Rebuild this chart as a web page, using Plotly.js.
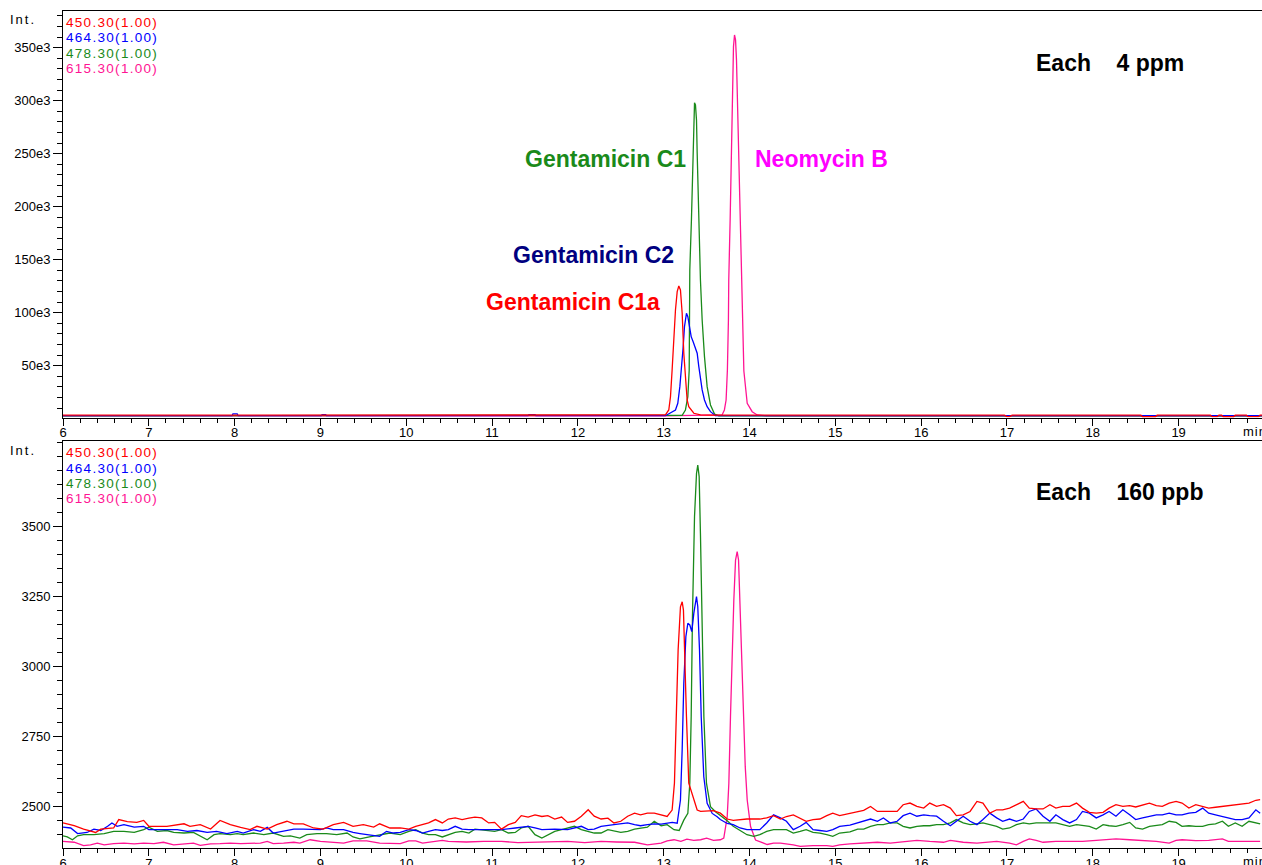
<!DOCTYPE html>
<html>
<head>
<meta charset="utf-8">
<script src="https://cdn.plot.ly/plotly-3.0.1.min.js"></script>
<style>
html,body{margin:0;padding:0;overflow:hidden;background:#fff;}
#plot{width:1264px;height:865px;}
</style>
</head>
<body>
<div id="plot"></div>
<script>
// ---------- DATA ----------
// Channel labels (m/z)
const channels = ['450.30(1.00)', '464.30(1.00)', '478.30(1.00)', '615.30(1.00)'];
const channelColors = ['#ff0000', '#0000ff', '#1a8a1a', '#ff1493'];
const compounds = ['Gentamicin C1a', 'Gentamicin C2', 'Gentamicin C1', 'Neomycin B'];
const panelTitles = ['Each\u00a0\u00a0\u00a0\u00a04 ppm', 'Each\u00a0\u00a0\u00a0\u00a0160 ppb'];

// Top panel (4 ppm) ---------------------------------------------------------
const t450_top = [6, 10, 12.5, 13.02, 13.059, 13.079, 13.098, 13.118, 13.137, 13.157, 13.176, 13.195, 13.215, 13.234, 13.253, 13.273, 13.292, 13.351, 13.428, 13.55, 15, 16.97, 17.0, 17.03, 17.06, 18.56, 18.58, 18.73, 18.75, 19.37, 19.39, 19.45, 19.47, 19.5, 19.52, 19.64, 19.66, 19.79, 19.81, 19.93, 19.95, 20];
const i450_top = [3300, 3300, 3300, 3500, 8200, 20800, 45900, 77400, 102500, 119800, 125200, 121400, 99400, 61700, 36500, 17600, 11300, 5100, 3600, 3300, 3300, 3300, 1900, 1900, 3300, 3300, 1800, 1800, 3300, 3300, 1900, 1900, 3300, 3300, 1800, 1800, 3300, 3300, 1900, 1900, 3300, 3300];
const t464_top = [6, 7.97, 7.98, 8.03, 8.04, 9.01, 9.02, 9.06, 9.07, 11.42, 11.43, 11.5, 11.51, 13.02, 13.137, 13.164, 13.188, 13.207, 13.227, 13.242, 13.258, 13.265, 13.281, 13.304, 13.32, 13.343, 13.37, 13.39, 13.409, 13.428, 13.448, 13.475, 13.506, 13.545, 13.603, 14.5, 20];
const i464_top = [2800, 2800, 4600, 4600, 2800, 2800, 3900, 3900, 2800, 2800, 3800, 3800, 2800, 2800, 8200, 14500, 30200, 45900, 67900, 86800, 97800, 99400, 96200, 86800, 77400, 72600, 66400, 61700, 49100, 36500, 27100, 17600, 11300, 6600, 2800, 2800, 2800];
const t478_top = [6, 12, 13.215, 13.253, 13.281, 13.297, 13.304, 13.323, 13.339, 13.347, 13.359, 13.37, 13.382, 13.39, 13.409, 13.428, 13.448, 13.475, 13.506, 13.545, 13.592, 13.642, 20];
const i478_top = [2600, 2600, 3200, 8200, 20800, 45900, 140300, 187500, 250400, 281800, 298100, 296000, 281800, 250400, 187500, 130900, 93100, 58500, 30200, 12900, 4400, 2600, 2600];
const t615_top = [6, 13.0, 13.68, 13.707, 13.727, 13.742, 13.754, 13.758, 13.774, 13.79, 13.802, 13.813, 13.825, 13.837, 13.848, 13.856, 13.875, 13.895, 13.91, 13.922, 13.934, 13.973, 14.031, 14.09, 14.2, 20];
const i615_top = [2600, 2600, 3500, 8200, 17600, 45900, 93100, 130900, 187500, 250400, 313200, 351000, 362000, 357300, 338400, 313200, 250400, 187500, 130900, 93100, 45000, 14500, 6600, 3500, 2600, 2600];

// Bottom panel (160 ppb) ----------------------------------------------------
const t450_bot = [6.00,6.13,6.24,6.38,6.44,6.59,6.65,6.75,6.86,6.94,7.00,7.21,7.41,7.48,7.60,7.72,7.83,7.95,8.07,8.18,8.26,8.38,8.49,8.61,8.69,8.80,8.92,9.03,9.15,9.27,9.38,9.50,9.62,9.69,9.81,9.93,10.03,10.11,10.26,10.34,10.42,10.49,10.57,10.65,10.73,10.80,10.88,10.96,11.03,11.11,11.19,11.27,11.34,11.42,11.50,11.58,11.65,11.73,11.81,11.88,11.96,12.04,12.12,12.19,12.27,12.35,12.42,12.50,12.58,12.66,12.73,12.81,12.89,12.97,13.04,13.07,13.098,13.125,13.149,13.168,13.195,13.215,13.23,13.242,13.265,13.292,13.332,13.37,13.39,13.43,13.50,13.58,13.66,13.74,13.81,13.89,13.97,14.05,14.12,14.20,14.28,14.36,14.43,14.51,14.59,14.66,14.74,14.82,14.90,14.97,15.05,15.17,15.33,15.41,15.49,15.60,15.72,15.79,15.87,15.95,16.03,16.10,16.18,16.26,16.34,16.41,16.49,16.57,16.65,16.72,16.80,16.88,16.95,17.03,17.11,17.19,17.26,17.34,17.42,17.50,17.57,17.65,17.73,17.81,17.88,17.96,18.04,18.12,18.19,18.27,18.35,18.43,18.50,18.58,18.66,18.74,18.81,18.89,18.97,19.04,19.12,19.20,19.28,19.35,19.43,19.51,19.58,19.66,19.74,19.82,19.90,19.95];
const i450_bot = [2442,2432,2420,2408,2420,2424,2454,2447,2444,2451,2430,2430,2439,2430,2436,2420,2451,2436,2426,2418,2430,2420,2436,2448,2439,2439,2424,2420,2436,2444,2430,2436,2427,2439,2424,2424,2420,2430,2442,2454,2442,2456,2460,2454,2459,2463,2460,2442,2444,2420,2436,2444,2468,2463,2471,2465,2468,2456,2463,2444,2448,2466,2489,2466,2456,2459,2442,2448,2466,2477,2471,2477,2477,2471,2465,2477,2488,2584,2822,3060,3214,3232,3202,3060,2822,2584,2548,2512,2488,2483,2484,2486,2477,2456,2451,2454,2456,2456,2456,2460,2468,2456,2465,2471,2460,2448,2454,2456,2468,2477,2468,2477,2487,2501,2483,2483,2483,2507,2513,2501,2495,2513,2501,2507,2495,2468,2471,2483,2519,2513,2477,2489,2489,2495,2507,2519,2495,2492,2492,2507,2495,2501,2501,2513,2495,2480,2477,2480,2495,2507,2501,2504,2499,2507,2513,2504,2501,2513,2519,2513,2495,2507,2501,2495,2498,2501,2504,2507,2510,2513,2523,2525];

const t464_bot = [6.00,6.09,6.17,6.28,6.36,6.44,6.52,6.57,6.63,6.71,6.83,6.94,7.00,7.10,7.21,7.33,7.45,7.56,7.68,7.79,7.91,8.03,8.10,8.22,8.30,8.38,8.45,8.57,8.69,8.80,8.92,9.00,9.07,9.15,9.27,9.38,9.46,9.57,9.69,9.77,9.85,9.93,10.03,10.11,10.19,10.26,10.34,10.42,10.49,10.57,10.65,10.73,10.85,10.96,11.11,11.27,11.42,11.50,11.58,11.73,11.88,12.04,12.12,12.19,12.27,12.42,12.58,12.66,12.73,12.81,12.89,12.97,13.04,13.10,13.157,13.195,13.215,13.234,13.258,13.281,13.304,13.327,13.351,13.382,13.397,13.417,13.437,13.467,13.506,13.565,13.623,13.66,13.74,13.81,13.89,13.97,14.05,14.12,14.20,14.28,14.36,14.43,14.51,14.59,14.66,14.74,14.82,14.90,14.97,15.05,15.17,15.26,15.33,15.41,15.49,15.56,15.64,15.72,15.79,15.87,15.95,16.03,16.10,16.18,16.26,16.34,16.41,16.49,16.57,16.65,16.72,16.80,16.88,16.95,17.03,17.11,17.19,17.26,17.34,17.42,17.50,17.57,17.65,17.73,17.81,17.88,17.96,18.04,18.12,18.19,18.27,18.35,18.43,18.50,18.58,18.66,18.74,18.81,18.89,18.97,19.04,19.12,19.20,19.28,19.35,19.43,19.51,19.58,19.66,19.74,19.82,19.90,19.95];
const i464_bot = [2427,2424,2404,2408,2420,2415,2430,2442,2430,2436,2427,2430,2418,2418,2420,2418,2412,2415,2408,2412,2404,2412,2406,2418,2412,2426,2406,2412,2420,2420,2418,2418,2424,2418,2418,2408,2404,2400,2394,2412,2406,2408,2418,2415,2406,2412,2418,2415,2418,2430,2420,2418,2418,2420,2418,2424,2430,2424,2418,2420,2418,2430,2418,2420,2430,2436,2442,2436,2432,2436,2439,2438,2442,2444,2441,2524,2703,2941,3107,3155,3149,3125,3191,3250,3214,3060,2821,2607,2512,2476,2464,2454,2440,2436,2424,2418,2418,2418,2442,2471,2460,2448,2418,2430,2444,2418,2415,2412,2418,2430,2434,2442,2448,2456,2448,2460,2442,2448,2468,2477,2466,2471,2468,2466,2448,2432,2448,2466,2448,2436,2454,2477,2460,2448,2456,2448,2456,2483,2492,2466,2448,2471,2454,2442,2454,2483,2477,2460,2471,2483,2466,2489,2471,2454,2460,2466,2471,2471,2477,2471,2471,2477,2480,2495,2477,2471,2466,2460,2454,2454,2460,2489,2477];

const t478_bot = [6.00,6.05,6.11,6.17,6.24,6.36,6.48,6.59,6.71,6.83,6.94,7.00,7.10,7.21,7.29,7.41,7.52,7.60,7.68,7.76,7.83,7.95,8.03,8.10,8.22,8.34,8.45,8.57,8.65,8.76,8.84,8.96,9.07,9.19,9.31,9.38,9.46,9.57,9.69,9.81,9.93,10.03,10.11,10.19,10.26,10.34,10.42,10.49,10.57,10.65,10.73,10.80,10.88,11.03,11.11,11.19,11.27,11.34,11.42,11.50,11.58,11.65,11.73,11.81,11.96,12.04,12.19,12.27,12.35,12.50,12.58,12.66,12.81,12.89,12.97,13.04,13.12,13.18,13.234,13.281,13.304,13.32,13.335,13.359,13.382,13.397,13.413,13.428,13.448,13.468,13.498,13.545,13.603,13.66,13.74,13.81,13.89,13.97,14.05,14.12,14.20,14.28,14.43,14.51,14.59,14.66,14.74,14.82,14.90,14.97,15.05,15.17,15.26,15.33,15.41,15.49,15.56,15.64,15.72,15.79,15.87,15.95,16.03,16.10,16.18,16.26,16.34,16.41,16.49,16.57,16.65,16.72,16.80,16.88,16.95,17.03,17.11,17.19,17.26,17.34,17.50,17.57,17.65,17.73,17.81,17.88,17.96,18.04,18.12,18.19,18.27,18.35,18.43,18.50,18.58,18.66,18.74,18.81,18.89,18.97,19.04,19.12,19.20,19.28,19.35,19.43,19.51,19.58,19.66,19.74,19.82,19.90,19.95];
const i478_bot = [2396,2392,2382,2396,2400,2400,2404,2412,2412,2408,2418,2427,2412,2415,2408,2406,2408,2394,2382,2400,2404,2400,2404,2400,2406,2400,2406,2394,2396,2388,2400,2404,2404,2400,2406,2392,2385,2392,2400,2406,2400,2412,2418,2406,2400,2400,2392,2400,2408,2412,2406,2420,2418,2412,2418,2406,2408,2424,2430,2400,2388,2400,2412,2418,2430,2418,2406,2406,2418,2408,2412,2420,2427,2448,2432,2436,2418,2415,2452,2476,2584,2821,3179,3536,3690,3720,3679,3476,3179,2821,2584,2500,2482,2470,2450,2430,2415,2400,2394,2400,2412,2418,2418,2406,2412,2418,2408,2406,2400,2394,2406,2410,2420,2420,2430,2436,2436,2442,2442,2430,2424,2430,2432,2432,2436,2436,2442,2454,2442,2436,2439,2442,2436,2430,2420,2424,2436,2442,2439,2442,2442,2442,2436,2430,2436,2432,2430,2420,2436,2432,2430,2436,2444,2424,2420,2430,2432,2436,2448,2444,2430,2432,2430,2430,2436,2439,2448,2430,2442,2430,2448,2442,2439];

const t615_bot = [6.00,6.13,6.24,6.32,6.40,6.48,6.59,6.71,6.83,6.94,7.06,7.17,7.29,7.41,7.52,7.60,7.72,7.83,7.95,8.07,8.18,8.30,8.38,8.45,8.57,8.69,8.76,8.88,9.00,9.11,9.27,9.38,9.54,9.69,9.81,9.93,10.03,10.11,10.19,10.26,10.34,10.42,10.49,10.70,10.90,11.11,11.30,11.50,11.70,11.88,12.08,12.27,12.45,12.66,12.81,12.97,13.04,13.12,13.20,13.27,13.35,13.43,13.50,13.58,13.66,13.70,13.74,13.759,13.778,13.798,13.817,13.837,13.856,13.872,13.887,13.907,13.927,13.95,13.973,14.012,14.07,14.12,14.206,14.28,14.36,14.51,14.59,14.74,14.90,14.97,15.05,15.17,15.33,15.49,15.64,15.79,15.95,16.10,16.26,16.34,16.41,16.49,16.65,16.80,16.88,17.03,17.11,17.19,17.26,17.34,17.42,17.57,17.73,17.88,18.04,18.19,18.27,18.43,18.58,18.74,18.89,18.97,19.04,19.20,19.35,19.43,19.51,19.58,19.74,19.90,19.95];
const i615_bot = [2376,2373,2361,2364,2370,2364,2368,2370,2367,2370,2368,2373,2364,2367,2370,2362,2367,2368,2370,2368,2370,2370,2376,2368,2370,2373,2370,2382,2376,2373,2370,2378,2378,2370,2368,2368,2378,2378,2370,2373,2376,2380,2376,2374,2376,2376,2372,2373,2376,2376,2372,2376,2374,2373,2364,2370,2378,2382,2376,2384,2380,2382,2388,2380,2382,2388,2464,2584,2821,3060,3238,3381,3411,3381,3238,3060,2821,2643,2524,2429,2381,2376,2365,2370,2370,2364,2358,2361,2361,2358,2364,2367,2370,2373,2370,2376,2380,2376,2373,2380,2376,2373,2370,2373,2376,2370,2364,2376,2385,2380,2373,2376,2376,2376,2380,2382,2385,2382,2380,2376,2370,2380,2382,2379,2380,2382,2385,2376,2376,2376,2376];

// Axis tick labels
const xTickVals = [6,7,8,9,10,11,12,13,14,15,16,17,18,19];
const topTickVals = [50000,100000,150000,200000,250000,300000,350000];
const topTickText = ['50e3','100e3','150e3','200e3','250e3','300e3','350e3'];
const botTickVals = [2500,2750,3000,3250,3500,3750];
const botTickText = ['2500','2750','3000','3250','3500',''];

// ---------- LAYOUT HELPERS ----------
const W = 1264, H = 865, ML = 63, MR = 0, MT = 11, MB = 17;
const PW = W - ML - MR, PH = H - MT - MB;
const xp = px => (px - ML) / PW;
const yp = py => (H - MB - py) / PH;
function steps(a, b, s) { const o = []; for (let k = 0; a + k * s <= b + 1e-9; k++) o.push(+(a + k * s).toFixed(4)); return o; }

const FONT = 'Liberation Sans, Arial, Helvetica, sans-serif';
const tickFont = {family: FONT, size: 13, color: '#000'};

function xaxisDef(anchor) {
  return {
    anchor: anchor, domain: [0, 1], range: [6, 19.995],
    showline: true, mirror: true, linecolor: '#000', linewidth: 1,
    showgrid: false, zeroline: false,
    tickmode: 'array', tickvals: xTickVals,
    ticks: 'outside', ticklen: 7, tickwidth: 1, tickcolor: '#000',
    ticklabelstandoff: -4,
    tickfont: tickFont,
    minor: {tickmode: 'array', tickvals: steps(6, 19.8, 0.2), ticks: 'outside', ticklen: 4, tickwidth: 1, tickcolor: '#000', showgrid: false}
  };
}
function yaxisDef(anchor, domain, range, tv, tt, minorStep) {
  return {
    anchor: anchor, domain: domain, range: range,
    showline: true, mirror: true, linecolor: '#000', linewidth: 1,
    showgrid: false, zeroline: false,
    tickmode: 'array', tickvals: tv, ticktext: tt,
    ticks: 'outside', ticklen: 9, tickwidth: 1, tickcolor: '#000',
    tickfont: tickFont,
    minor: {tickmode: 'array', tickvals: steps(Math.ceil(range[0] / minorStep) * minorStep, range[1], minorStep), ticks: 'outside', ticklen: 5, tickwidth: 1, tickcolor: '#000', showgrid: false}
  };
}

// ---------- TRACES ----------
const topT = [t450_top, t464_top, t478_top, t615_top];
const topI = [i450_top, i464_top, i478_top, i615_top];
const botT = [t450_bot, t464_bot, t478_bot, t615_bot];
const botI = [i450_bot, i464_bot, i478_bot, i615_bot];
const order = [3, 2, 1, 0];
const traces = [];
order.forEach(k => traces.push({x: topT[k], y: topI[k], xaxis: 'x', yaxis: 'y', type: 'scatter', mode: 'lines', line: {color: channelColors[k], width: 1.3}, name: channels[k], hoverinfo: 'skip'}));
order.forEach(k => traces.push({x: botT[k], y: botI[k], xaxis: 'x2', yaxis: 'y2', type: 'scatter', mode: 'lines', line: {color: channelColors[k], width: 1.3}, name: channels[k], hoverinfo: 'skip'}));

// ---------- ANNOTATIONS ----------
const ann = [];
function txt(text, px, py, xa, font) {
  ann.push({xref: 'paper', yref: 'paper', x: xp(px), y: yp(py), xanchor: xa, yanchor: 'middle', text: text, showarrow: false, font: font});
}
const legFont = c => ({family: FONT, size: 13.5, color: c});
const spaced = (s, ls) => '<span style="letter-spacing:' + ls + 'px">' + s + '</span>';
const legY = [[22.3, 37.8, 53.3, 68.7], [452.3, 468.3, 483.3, 498.3]];
[0, 1].forEach(p => {
  channels.forEach((c, k) => txt(spaced(c, 1.3), 63.5, legY[p][k], 'left', legFont(channelColors[k])));
  txt(spaced('Int.', 2), 8, p === 0 ? 20 : 451, 'left', {family: FONT, size: 13, color: '#000'});
  txt(spaced('min', 1), 1241, p === 0 ? 431.5 : 861.5, 'left', {family: FONT, size: 13, color: '#000'});
});
const boldFont = c => ({family: FONT, size: 23, color: c, weight: 'bold'});
txt(panelTitles[0], 1034, 63, 'left', boldFont('#000'));
txt(panelTitles[1], 1034, 491.5, 'left', boldFont('#000'));
txt(compounds[2], 688, 159, 'right', boldFont('#1a8a1a'));
txt(compounds[3], 753, 159, 'left', boldFont('#ff00ff'));
txt(compounds[1], 675.5, 255, 'right', boldFont('#000080'));
txt(compounds[0], 662, 301.7, 'right', boldFont('#ff0000'));

const layout = {
  width: W, height: H,
  margin: {l: ML, r: MR, t: MT, b: MB, pad: 0},
  paper_bgcolor: '#fff', plot_bgcolor: '#fff',
  showlegend: false,
  font: {family: FONT, size: 13, color: '#000'},
  xaxis: xaxisDef('y'),
  yaxis: yaxisDef('x', [yp(417.5), 1], [1100, 384600], topTickVals, topTickText, 10000),
  xaxis2: xaxisDef('y2'),
  yaxis2: yaxisDef('x2', [0, yp(441)], [2352.5, 3806], botTickVals, botTickText, 50),
  annotations: ann
};

Plotly.newPlot('plot', traces, layout, {displayModeBar: false, staticPlot: true});
</script>
</body>
</html>
